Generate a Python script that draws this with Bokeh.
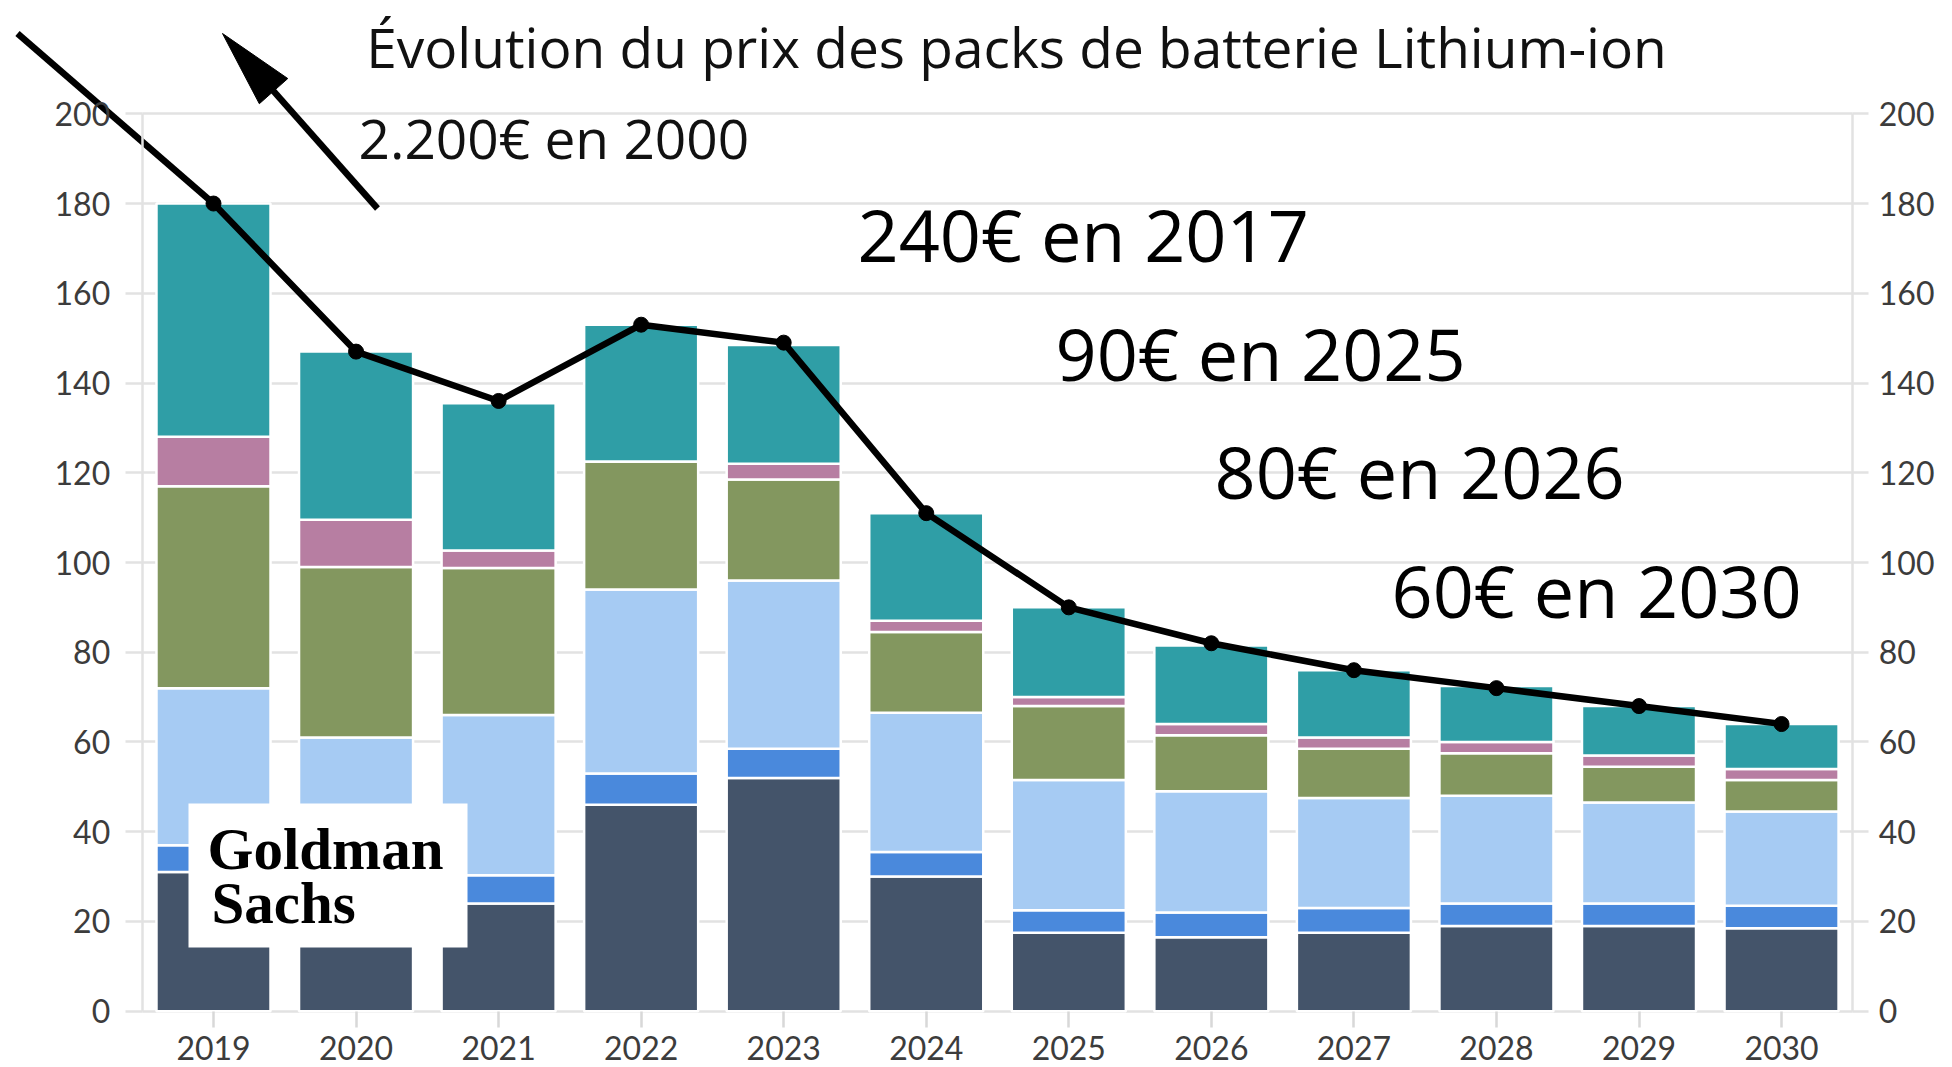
import subprocess
from bokeh.plotting import figure
from bokeh.models import (ColumnDataSource, Range1d, LinearAxis, FixedTicker, Grid,
                          Label, BoxAnnotation)
from bokeh.embed import file_html
from bokeh.resources import INLINE

# ---------------- data ----------------
years = ["2019", "2020", "2021", "2022", "2023", "2024", "2025", "2026", "2027", "2028", "2029", "2030"]
seg_navy  = [31, 27, 24, 46, 52, 30, 17.5, 16.5, 17.5, 19, 19, 18.5]
seg_blue  = [6, 6, 6.3, 7, 6.5, 5.5, 5, 5.5, 5.5, 5, 5, 5]
seg_light = [35, 28, 35.7, 41, 37.5, 31, 29, 27, 24.5, 24, 22.5, 21]
seg_green = [45, 38, 32.8, 28.5, 22.5, 18, 16.5, 12.5, 11, 9.5, 8, 7]
seg_mauve = [11, 10.5, 3.9, 0, 3.5, 2.5, 2, 2.5, 2.5, 2.5, 2.5, 2.5]
seg_teal  = [52, 37.5, 32.8, 30.5, 26.5, 24, 20, 17.5, 15, 12.5, 11, 10]
pack_price = [180, 147, 136, 153, 149, 111, 90, 82, 76, 72, 68, 64]
y_ticks = [0, 20, 40, 60, 80, 100, 120, 140, 160, 180, 200]

title_text = "Évolution du prix des packs de batterie Lithium-ion"
note_2000 = "2.200€ en 2000"
big_notes = ["240€ en 2017", "90€ en 2025", "80€ en 2026", "60€ en 2030"]

stack_names = ["navy", "blue", "light", "green", "mauve", "teal"]
stack_colors = ["#44546A", "#4A89DC", "#A6CBF3", "#83975F", "#B77EA2", "#2F9EA6"]

# ---------------- layout (pixels) ----------------
W, H = 1950, 1066
CAT0_PX, CAT_STEP_PX = 213.0, 142.55      # centre of first category, spacing
ZERO_PX, UNIT_PX = 1010.7, 4.487          # y pixel of value 0, pixels per unit


def dx(px):
    return (px - CAT0_PX) / CAT_STEP_PX


def dy(py):
    return (ZERO_PX - py) / UNIT_PX


def has_font(name):
    try:
        out = subprocess.run(["fc-list", ":", "family"], capture_output=True, text=True, timeout=10).stdout
        return name.lower() in out.lower()
    except Exception:
        return False


NARROW = has_font("Liberation Sans Narrow")
NOTE_FONT = "Liberation Sans Narrow" if NARROW else "Open Sans"
BIG_PX = 95 if NARROW else 72
NOTE_PX = 64 if NARROW else 55
NOTE_K = 0.33 if NARROW else 0.388     # (ascent - descent) / 2, in em
SANS_K = 0.388
SERIF_K = 0.3375


def mid_y(baseline_px, size_px, k):
    # "middle" anchored text: place so that the alphabetic baseline lands on baseline_px
    return dy(baseline_px - k * size_px)


pos = list(range(len(years)))
source = ColumnDataSource(dict(pos=pos, navy=seg_navy, blue=seg_blue, light=seg_light,
                               green=seg_green, mauve=seg_mauve, teal=seg_teal))

GRID = "#E2E2E2"
TICK_FONT = "Lato"
left_edge = pos[0] - 0.5
right_edge = pos[-1] + 0.5

p = figure(width=W, height=H, output_backend="svg", toolbar_location=None,
           x_range=Range1d(dx(0), dx(W)), y_range=Range1d(dy(H), dy(0)),
           x_axis_location=None, y_axis_location=None,
           min_border=0, min_border_left=0, min_border_right=0, min_border_top=0, min_border_bottom=0,
           outline_line_color=None, background_fill_color="white", border_fill_color="white")

# drop default grids, add our own
p.center = [r for r in p.center if not isinstance(r, Grid)]
grid = Grid(dimension=1, ticker=FixedTicker(ticks=y_ticks), grid_line_color=GRID, grid_line_width=2.5)
use_cross = "cross_bounds" in Grid.properties()
if use_cross:
    grid.cross_bounds = (left_edge, right_edge)
p.add_layout(grid)

# left axis
left_axis = LinearAxis(fixed_location=left_edge, bounds=(y_ticks[0], y_ticks[-1]),
                       ticker=FixedTicker(ticks=y_ticks), axis_line_color=GRID, axis_line_width=2.5,
                       major_tick_line_color=GRID, major_tick_line_width=2.5, major_tick_out=17,
                       major_tick_in=0 if use_cross else int(round((right_edge - left_edge) * CAT_STEP_PX)),
                       minor_tick_line_color=None, major_label_standoff=15,
                       major_label_text_font=TICK_FONT, major_label_text_font_size="32px",
                       major_label_text_color="#3C3C3C")
p.add_layout(left_axis, "left")

right_axis = LinearAxis(fixed_location=right_edge, bounds=(y_ticks[0], y_ticks[-1]),
                        ticker=FixedTicker(ticks=y_ticks), axis_line_color=GRID, axis_line_width=2.5,
                        major_tick_line_color=GRID, major_tick_line_width=2.5, major_tick_out=16,
                        major_tick_in=0, minor_tick_line_color=None, major_label_standoff=10,
                        major_label_text_font=TICK_FONT, major_label_text_font_size="32px",
                        major_label_text_color="#3C3C3C")
p.add_layout(right_axis, "right")

bottom_axis = LinearAxis(fixed_location=0, ticker=FixedTicker(ticks=pos),
                         major_label_overrides={i: y for i, y in zip(pos, years)},
                         axis_line_color=None, major_tick_line_color="#D8D8D8", major_tick_line_width=2.5,
                         major_tick_out=16, major_tick_in=0, minor_tick_line_color=None,
                         major_label_standoff=9, major_label_text_font=TICK_FONT,
                         major_label_text_font_size="32px", major_label_text_color="#3C3C3C")
p.add_layout(bottom_axis, "below")

# bars
p.vbar_stack(stack_names, x="pos", width=0.8, color=stack_colors, source=source,
             line_color="white", line_width=2.5)

# Goldman Sachs logo box
p.add_layout(BoxAnnotation(left=dx(188), right=dx(467), bottom=dy(947), top=dy(803),
                           fill_color="white", fill_alpha=1, line_color=None))
p.add_layout(Label(x=dx(207), y=mid_y(868, 59, SERIF_K), text="Goldman", text_font="Liberation Serif",
                   text_font_style="bold", text_font_size="59px", text_color="black",
                   text_baseline="middle"))
p.add_layout(Label(x=dx(211), y=mid_y(922, 59, SERIF_K), text="Sachs", text_font="Liberation Serif",
                   text_font_style="bold", text_font_size="59px", text_color="black",
                   text_baseline="middle"))

# price line with its extension toward 2000 (off chart)
p.line([dx(17), pos[0]], [dy(33), pack_price[0]], line_color="black", line_width=6.5)
p.line(pos, pack_price, line_color="black", line_width=6.5)
p.scatter(pos, pack_price, size=15, color="black")

# arrow pointing up-left (body + head)
tail = (377.0, 208.0)
tip = (222.0, 33.0)
head_len, head_half = 77.0, 19.0
vx, vy = tip[0] - tail[0], tip[1] - tail[1]
ln = (vx ** 2 + vy ** 2) ** 0.5
ux, uy = vx / ln, vy / ln
bx, by = tip[0] - ux * head_len, tip[1] - uy * head_len
nx, ny = -uy, ux
p.line([dx(tail[0]), dx(bx + ux * 4)], [dy(tail[1]), dy(by + uy * 4)], line_color="black", line_width=6.5)
p.patch([dx(tip[0]), dx(bx + nx * head_half), dx(bx - nx * head_half)],
        [dy(tip[1]), dy(by + ny * head_half), dy(by - ny * head_half)],
        fill_color="black", line_color="black", line_width=1)

# texts
p.add_layout(Label(x=dx(1016), y=mid_y(67, 55, SANS_K), text=title_text, text_align="center",
                   text_font="Open Sans", text_font_size="55px", text_color="#111111",
                   text_baseline="middle"))
p.add_layout(Label(x=dx(358), y=mid_y(158, NOTE_PX, NOTE_K), text=note_2000, text_font=NOTE_FONT,
                   text_font_size=f"{NOTE_PX}px", text_color="#111111", text_baseline="middle"))
big_px = [(857, 261.5), (1055, 380), (1214, 498.5), (1391, 617)]
for (px_, py_), t in zip(big_px, big_notes):
    p.add_layout(Label(x=dx(px_), y=mid_y(py_, BIG_PX, NOTE_K), text=t, text_font=NOTE_FONT,
                       text_font_size=f"{BIG_PX}px", text_color="black", text_baseline="middle"))

open("out.html", "w").write(file_html(p, INLINE))
